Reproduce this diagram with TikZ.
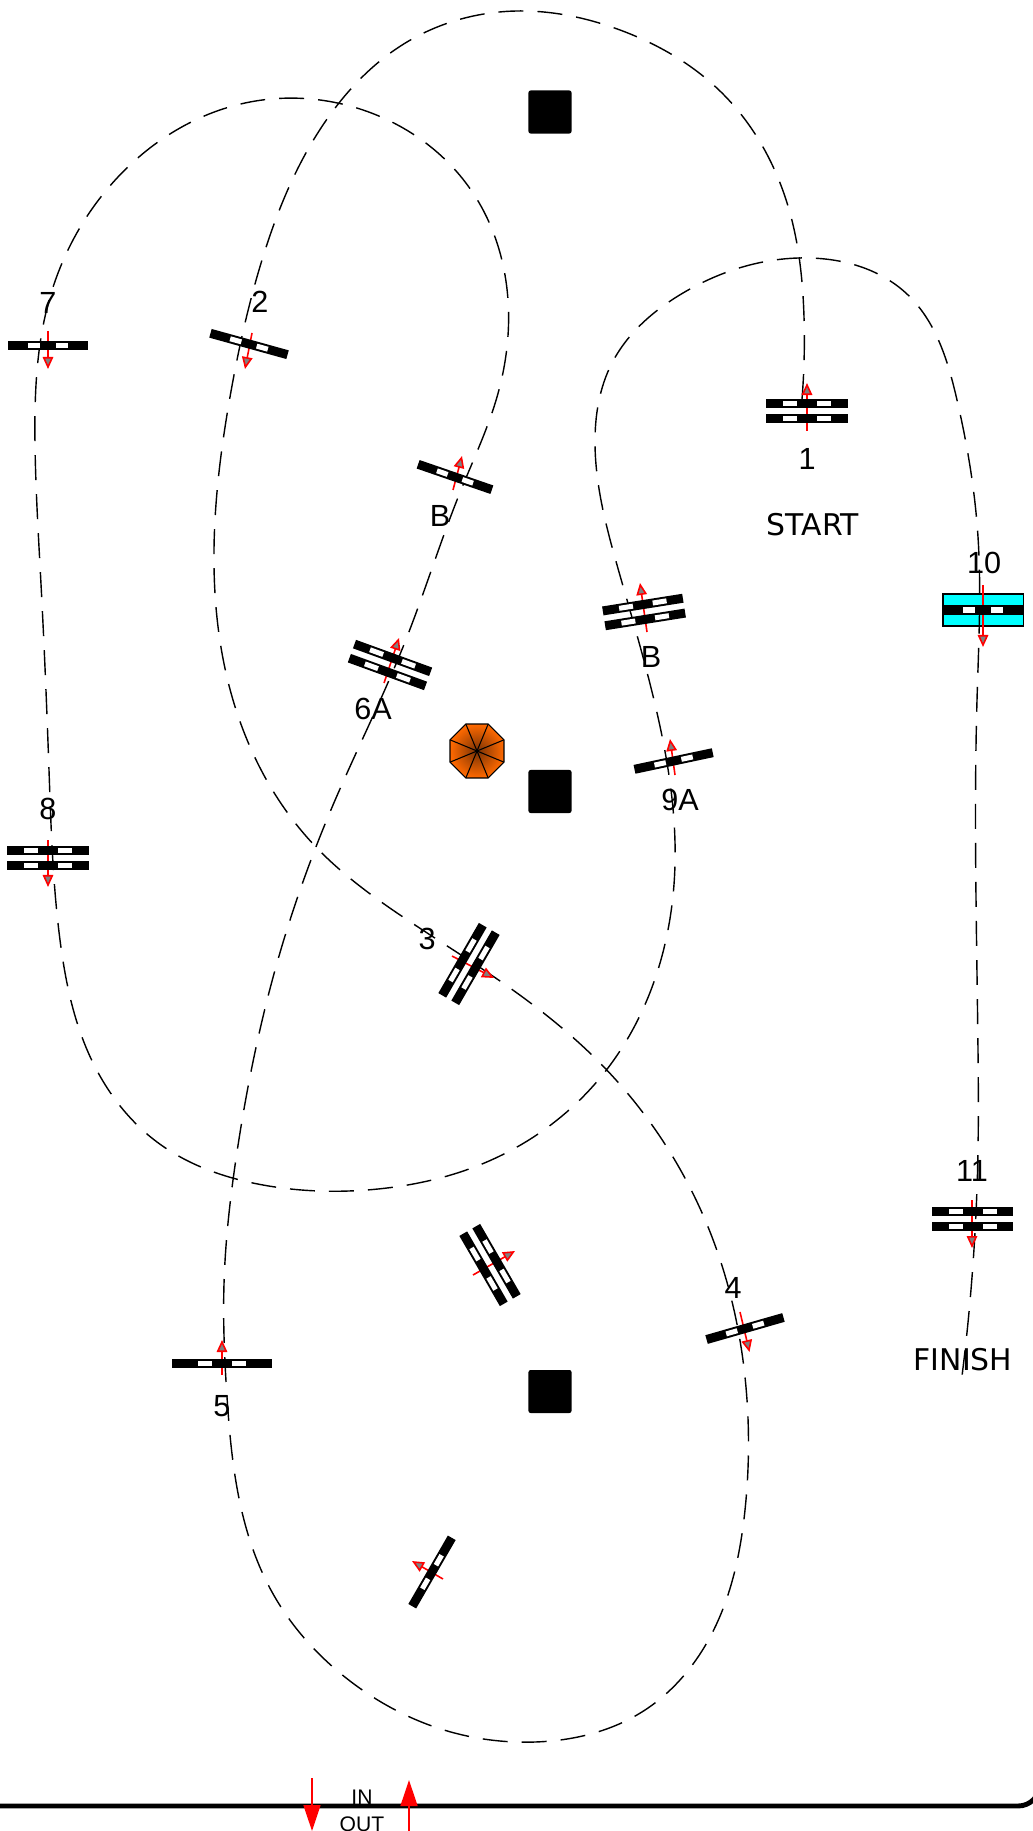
\documentclass[tikz,border=0pt]{standalone}
\usepackage{fontspec}
\setmainfont{Liberation Sans}
\newfontfamily\handfont{DejaVu Sans}
\usepackage{xcolor}
\usepackage{tikz}
\usetikzlibrary{arrows.meta, shapes.geometric, hobby}
\definecolor{conecore}{RGB}{120,50,5}
\definecolor{coneedge}{RGB}{255,105,0}
\definecolor{padcyan}{RGB}{0,255,255}
\definecolor{tipgray}{RGB}{128,128,128}
\definecolor{entryred}{RGB}{255,0,0}
\tikzset{
  gatebar/.style={rectangle, fill=black, inner sep=0pt, outer sep=0pt,
                  minimum height=0.09cm, transform shape},
  gateslot/.style={rectangle, fill=white, inner sep=0pt, outer sep=0pt,
                   minimum height=0.05cm, transform shape},
  gatepad/.style={rectangle, draw=black, fill=padcyan, line width=0.3pt, inner sep=0pt,
                  minimum width=0.8cm, minimum height=0.32cm},
  blocker/.style={rectangle, fill=black, rounded corners=0.6pt, inner sep=0pt,
                  minimum size=0.43cm},
  octa/.style={regular polygon, regular polygon sides=8, draw=black, line width=0.3pt,
               inner sep=0pt, outer sep=0pt, minimum size=0.584cm,
               shade, shading=radial, inner color=conecore, outer color=coneedge},
  spoke/.style={black, line width=0.3pt},
  route/.style={black, line width=0.4pt, dash pattern=on 7.1pt off 4pt},
  pass/.style={entryred, line width=0.45pt,
               -{Triangle[length=1.2mm, width=1.05mm, fill=tipgray, line width=0.45pt]}},
  road/.style={black, line width=1.4pt},
  entry/.style={entryred, line width=0.4pt, -{Triangle[length=2.6mm, width=1.7mm, fill=entryred]}},
  num/.style={font=\fontsize{8.7}{10}\selectfont, inner sep=0pt},
  hand/.style={font=\handfont\fontsize{8.5}{10}\selectfont, inner sep=0pt},
  small/.style={font=\fontsize{6}{7}\selectfont, inner sep=0pt},
  pics/singlegate/.style={code={
    \node[gatebar, minimum width=#1*0.01cm] (-bar) at (0,0) {};
    \foreach \s in {-1,1}
      \node[gateslot, minimum width=#1*0.00145cm] at (\s*#1*0.172,0) {};
  }},
  pics/doublegate/.style={code={
    \foreach \r/\side in {-7.5/top,7.5/bot} {
      \node[gatebar, minimum width=0.81cm] (-\side) at (0,\r) {};
      \foreach \s in {-1,1}
        \node[gateslot, minimum width=0.14cm] at (\s*17,\r) {};
    }
  }}
}
\begin{document}
\begin{tikzpicture}[x=0.01cm, y=-0.01cm]
  \useasboundingbox (0,0) rectangle (1032,1831);
  % blocks and cone
  \foreach \name/\y in {blockA/112, blockB/791.5, blockC/1391.5}
    \node[blocker] (\name) at (550,\y) {};
  \node[octa] (cone) at (477,751) {};
  \foreach \k in {1,...,8}
    \draw[spoke] (cone.center) -- (cone.corner \k);
  \node[gatepad] (g10pad) at (983,610) {};
  % course line
  \coordinate (routestart) at (802,399);
  \coordinate (routeend) at (962,1376);
  \draw[route, use Hobby shortcut] (routestart) .. (804,317) .. (790,213) .. (722,93) .. (620,30)
      .. (517,11) .. (407,42) .. (325,122) .. (262,260) .. (230,397) .. (214,549) .. (233,700)
      .. (315,846) .. (403,917) .. (500,981) .. (600,1063) .. (712,1237) .. (747,1400)
      .. (745,1510) .. (717,1623) .. (645,1710) .. (535,1742) .. (444,1730) .. (350,1681)
      .. (272,1592) .. (244,1520) .. (227,1397) .. (224,1284) .. (237,1152) .. (277,963)
      .. (333,805) .. (405,642) .. (461,490) .. (497,397) .. (508,300) .. (473,193) .. (363,110)
      .. (250,102) .. (118,177) .. (50,297) .. (35,444) .. (41,584) .. (49,770) .. (60,940)
      .. (88,1052) .. (157,1142) .. (263,1185) .. (378,1189) .. (477,1166) .. (600,1078)
      .. (675,864) .. (654,700) .. (619,572) .. (595,444) .. (612,363) .. (683,293) .. (810,258)
      .. (908,295) .. (957,400) .. (978,537) .. (977,700) .. (978,1051) .. (978,1150)
      .. (routeend);
  % arrows through the gates
  \foreach \name/\ax/\ay/\bx/\by in {g1/807/431/807/383, g10/983/585/983/647, g7/48/331/48/369,
      g2/252/333/245/369, g6B/453/490/462/456, g6A/384/683/399/638, g9B/647/632/640/583,
      g9A/675/775/670/739, g8/48/840/48/887, g3/452/956/494/978, gx/473/1275/515/1251,
      g4/740/1312/749.5/1352, g5/222/1375/222/1340, gs/443/1579/412/1561, g11/972/1200/972/1248} {
    \coordinate (\name tail) at (\ax,\ay);
    \coordinate (\name head) at (\bx,\by);
    \draw[pass] (\name tail) -- (\name head);
  }
  % gates
  \foreach \name/\x/\y/\rot/\len in {g7/48/345.5/0/80, g2/249/344/-15.5/80, g6B/455/477/-19/78,
      g9A/673.6/761/12/80, g4/745/1328.5/16/80, g5/222/1363.5/0/100, gs/432/1572/60/79,
      g10/983/610/0/80}
    \pic[rotate=\rot] (\name) at (\x,\y) {singlegate=\len};
  \foreach \name/\x/\y/\rot in {g1/807/411/0, g6A/390/665/-20, g9B/644/612/9, g8/48/858/0,
      g3/469/964/60, gx/490/1265/-60, g11/972.5/1219/0}
    \pic[rotate=\rot] (\name) at (\x,\y) {doublegate};
  % labels
  \foreach \name/\txt/\x/\y in {l1/1/807/459, l2/2/260/302, l3/3/427/939, l4/4/733/1288, l5/5/222/1406,
      l6A/6A/373/709, l6B/B/440/516, l7/7/48/303, l8/8/48/809, l9A/9A/680/800, l9B/B/651/657,
      l10/10/984/563, l11/11/972/1171}
    \node[num] (\name) at (\x,\y) {\txt};
  \node[hand] (startlabel) at (813,525) {START};
  \node[hand] (finishlabel) at (963,1360) {FINISH};
  % road and entrance
  \coordinate (roadleft) at (0,1806);
  \coordinate (roadbend) at (1018,1806);
  \coordinate (roadright) at (1040,1784);
  \draw[road] (roadleft) -- (roadbend) to[out=0, in=-90] (roadright);
  \coordinate (intail) at (312,1778);
  \coordinate (inhead) at (312,1831);
  \coordinate (outtail) at (409,1831);
  \coordinate (outhead) at (409,1780);
  \draw[entry] (intail) -- (inhead);
  \draw[entry] (outtail) -- (outhead);
  \node[small] (inlabel) at (362,1797) {IN};
  \node[small] (outlabel) at (362,1824) {OUT};
\end{tikzpicture}
\end{document}
